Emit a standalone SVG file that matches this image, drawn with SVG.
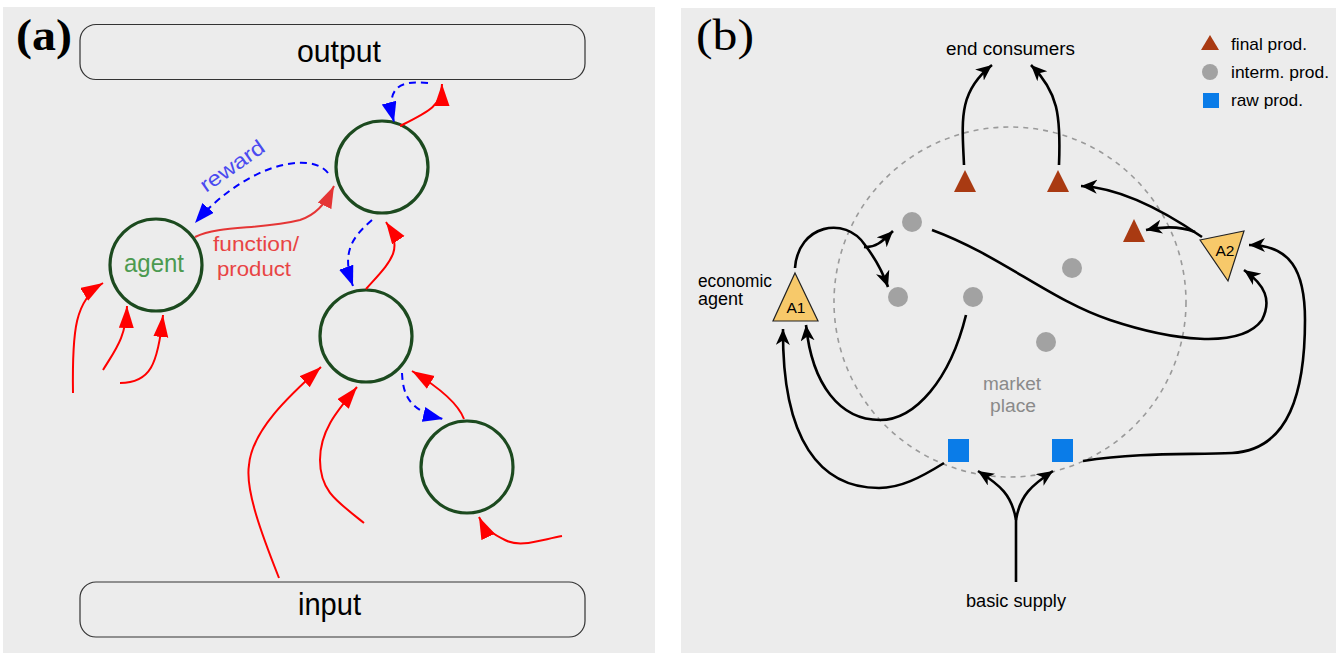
<svg xmlns="http://www.w3.org/2000/svg" width="1339" height="655" viewBox="0 0 1339 655">
<defs>
<style>
.bg{fill:#ececec}
.box{fill:#ececec;stroke:#333;stroke-width:1.2}
.circ{fill:none;stroke:#1c4a1f;stroke-width:3.2}
.red{fill:none;stroke:#ff0000;stroke-width:2}
.red2{fill:none;stroke:#e53535;stroke-width:2}
.blue{fill:none;stroke:#0000ff;stroke-width:2;stroke-dasharray:7 5}
.blk{fill:none;stroke:#000;stroke-width:2.6}
.lbl{font-family:"Liberation Sans",Arial,sans-serif}
.ser{font-family:"Liberation Serif","Times New Roman",serif}
.gdot{fill:#a2a2a2}
.fin{fill:#a93a12}
.raw{fill:#0a7ce8}
.ag{fill:#f7c96a;stroke:#222;stroke-width:1.2}
</style>
<marker id="ar" markerUnits="userSpaceOnUse" markerWidth="24" markerHeight="16" refX="22" refY="7.5" orient="auto"><path d="M0,0 L22,7.5 L0,15 z" fill="#ff0000"/></marker>
<marker id="ar2" markerUnits="userSpaceOnUse" markerWidth="24" markerHeight="16" refX="22" refY="7.5" orient="auto"><path d="M0,0 L22,7.5 L0,15 z" fill="#e53535"/></marker>
<marker id="ab" markerUnits="userSpaceOnUse" markerWidth="22" markerHeight="16" refX="20" refY="7.5" orient="auto"><path d="M0,0 L20,7.5 L0,15 z" fill="#0000ff"/></marker>
<marker id="ak" markerUnits="userSpaceOnUse" markerWidth="18" markerHeight="15" refX="16" refY="7" orient="auto"><path d="M0,0 L16,7 L0,14 L4.5,7 z" fill="#000"/></marker>
</defs>
<rect width="1339" height="655" fill="#ffffff"/>
<rect class="bg" x="3" y="7" width="652" height="646"/>
<rect class="bg" x="681" y="8" width="655" height="645"/>

<!-- Panel (a) -->
<text class="ser" x="16" y="50" font-size="45" font-weight="bold" textLength="56" lengthAdjust="spacingAndGlyphs">(a)</text>
<g id="output">
<rect class="box" x="80" y="24.5" width="505" height="55" rx="16"/>
<text class="lbl" x="297" y="62" font-size="31" textLength="84" lengthAdjust="spacingAndGlyphs">output</text>
</g>
<g id="input">
<rect class="box" x="80" y="582" width="505" height="55" rx="16"/>
<text class="lbl" x="298" y="615" font-size="31" textLength="63" lengthAdjust="spacingAndGlyphs">input</text>
</g>
<g id="agent">
<circle class="circ" cx="156" cy="265" r="46"/>
<text class="lbl" x="124" y="272" font-size="26" fill="#4c9a50" textLength="60" lengthAdjust="spacingAndGlyphs">agent</text>
</g>
<g id="n1"><circle class="circ" cx="382" cy="167" r="46"/></g>
<g id="n2"><circle class="circ" cx="366" cy="336" r="46"/></g>
<g id="n3"><circle class="circ" cx="467" cy="467" r="46"/></g>

<g id="connectors-a">
<path class="red" d="M400,126 C428,112 442,106 442,84" marker-end="url(#ar)"/>
<path class="blue" d="M428,83 C400,80 385,87 394,122" marker-end="url(#ab)"/>
<path class="blue" d="M328,173 C310,150 245,165 195,223" marker-end="url(#ab)"/>
<path class="red2" d="M195,237 C220,225 258,230 300,220 C315,215 325,205 334,186" marker-end="url(#ar2)"/>
<path class="blue" d="M372,220 C355,235 340,250 353,286" marker-end="url(#ab)"/>
<path class="red" d="M366,289 C390,262 405,250 386,222" marker-end="url(#ar)"/>
<path class="red" d="M73,393 C72,330 75,300 103,283" marker-end="url(#ar)"/>
<path class="red" d="M103,370 C115,350 126,338 127,306" marker-end="url(#ar)"/>
<path class="red" d="M120,383 C150,383 158,365 163,315" marker-end="url(#ar)"/>
<path class="red" d="M279,578 C262,535 245,490 249,465 C252,430 290,395 321,367" marker-end="url(#ar)"/>
<path class="red" d="M364,523 C335,500 320,490 320,460 C320,430 338,410 357,387" marker-end="url(#ar)"/>
<path class="red" d="M464,419 C458,403 440,388 412,371" marker-end="url(#ar)"/>
<path class="blue" d="M402,373 C403,390 405,410 443,419" marker-end="url(#ab)"/>
<path class="red" d="M562,536 C540,540 520,548 505,540 C495,535 485,530 479,517" marker-end="url(#ar)"/>
</g>
<text class="lbl" x="0" y="0" font-size="21" fill="#4a4af0" transform="translate(206,193) rotate(-35)" textLength="74" lengthAdjust="spacingAndGlyphs">reward</text>
<text class="lbl" x="213" y="251" font-size="21" fill="#e84444" textLength="86" lengthAdjust="spacingAndGlyphs">function/</text>
<text class="lbl" x="217" y="276" font-size="21" fill="#e84444" textLength="74" lengthAdjust="spacingAndGlyphs">product</text>

<!-- Panel (b) -->
<text class="ser" x="696" y="50" font-size="45" textLength="58" lengthAdjust="spacingAndGlyphs">(b)</text>
<ellipse cx="1010" cy="302" rx="176" ry="175" fill="none" stroke="#9a9a9a" stroke-width="1.6" stroke-dasharray="5 5"/>
<text class="lbl" x="983" y="390" font-size="18" fill="#8a8a8a" textLength="58" lengthAdjust="spacingAndGlyphs">market</text>
<text class="lbl" x="990" y="412" font-size="18" fill="#8a8a8a" textLength="46" lengthAdjust="spacingAndGlyphs">place</text>

<g id="legend">
<polygon class="fin" points="1210,35 1219,50 1201,50"/>
<text class="lbl" x="1231" y="50" font-size="17" textLength="76" lengthAdjust="spacingAndGlyphs">final prod.</text>
<circle class="gdot" cx="1210" cy="72" r="8"/>
<text class="lbl" x="1231" y="78" font-size="17" textLength="98" lengthAdjust="spacingAndGlyphs">interm. prod.</text>
<rect class="raw" x="1203" y="93" width="16" height="15"/>
<text class="lbl" x="1231" y="106" font-size="17" textLength="72" lengthAdjust="spacingAndGlyphs">raw prod.</text>
</g>

<g id="end-consumers"><text class="lbl" x="946" y="55" font-size="18" textLength="129" lengthAdjust="spacingAndGlyphs">end consumers</text></g>
<g id="basic-supply"><text class="lbl" x="966" y="607" font-size="17.5" textLength="100" lengthAdjust="spacingAndGlyphs">basic supply</text></g>

<g id="f1"><polygon class="fin" points="965,170 976,192 954,192"/></g>
<g id="f2"><polygon class="fin" points="1058,170 1069,192 1047,192"/></g>
<g id="f3"><polygon class="fin" points="1134,219 1145,242 1123,242"/></g>
<g id="i1"><circle class="gdot" cx="912" cy="222" r="10"/></g>
<g id="i2"><circle class="gdot" cx="898" cy="297" r="10"/></g>
<g id="i3"><circle class="gdot" cx="973" cy="297" r="10"/></g>
<g id="i4"><circle class="gdot" cx="1072" cy="268" r="10"/></g>
<g id="i5"><circle class="gdot" cx="1046" cy="342" r="10"/></g>
<g id="r1"><rect class="raw" x="948" y="439" width="21" height="23"/></g>
<g id="r2"><rect class="raw" x="1052" y="439" width="21" height="23"/></g>
<g id="A1">
<polygon class="ag" points="795,273 818,321 773,321"/>
<text class="lbl" x="796" y="313" font-size="15.5" text-anchor="middle">A1</text>
</g>
<g id="A2">
<polygon class="ag" points="1200,240 1244,231 1228,281"/>
<text class="lbl" x="1225" y="256" font-size="15.5" text-anchor="middle">A2</text>
</g>
<text class="lbl" x="698" y="287" font-size="17.5" textLength="74" lengthAdjust="spacingAndGlyphs">economic</text>
<text class="lbl" x="698" y="305" font-size="17.5" textLength="45" lengthAdjust="spacingAndGlyphs">agent</text>

<g id="connectors-b">
<path class="blk" d="M964,165 C962,120 958,92 992,65" marker-end="url(#ak)"/>
<path class="blk" d="M1059,165 C1061,115 1058,92 1031,65" marker-end="url(#ak)"/>
<path class="blk" d="M1202,237 C1170,215 1125,188 1081,186" marker-end="url(#ak)"/>
<path class="blk" d="M1195,232 C1180,226 1165,226 1146,230" marker-end="url(#ak)"/>
<path class="blk" d="M795,268 C798,225 845,215 865,245 C875,258 882,270 888,287" marker-end="url(#ak)"/>
<path class="blk" d="M864,247 C875,248 882,242 893,231" marker-end="url(#ak)"/>
<path class="blk" d="M932,230 C1000,255 1050,300 1110,320 C1170,340 1240,350 1262,320 C1272,300 1265,285 1244,270" marker-end="url(#ak)"/>
<path class="blk" d="M1083,461 C1140,452 1190,455 1232,453 C1290,450 1305,390 1305,320 C1305,270 1290,245 1249,245" marker-end="url(#ak)"/>
<path class="blk" d="M966,315 C950,380 915,420 880,420 C840,420 812,385 806,325" marker-end="url(#ak)"/>
<path class="blk" d="M944,463 C920,478 900,488 879,488 C820,488 782,440 783,329" marker-end="url(#ak)"/>
<path class="blk" d="M1016,582 L1016,520 C1012,495 1000,485 978,471" marker-end="url(#ak)"/>
<path class="blk" d="M1016,520 C1020,495 1032,485 1053,471" marker-end="url(#ak)"/>
</g>
</svg>
